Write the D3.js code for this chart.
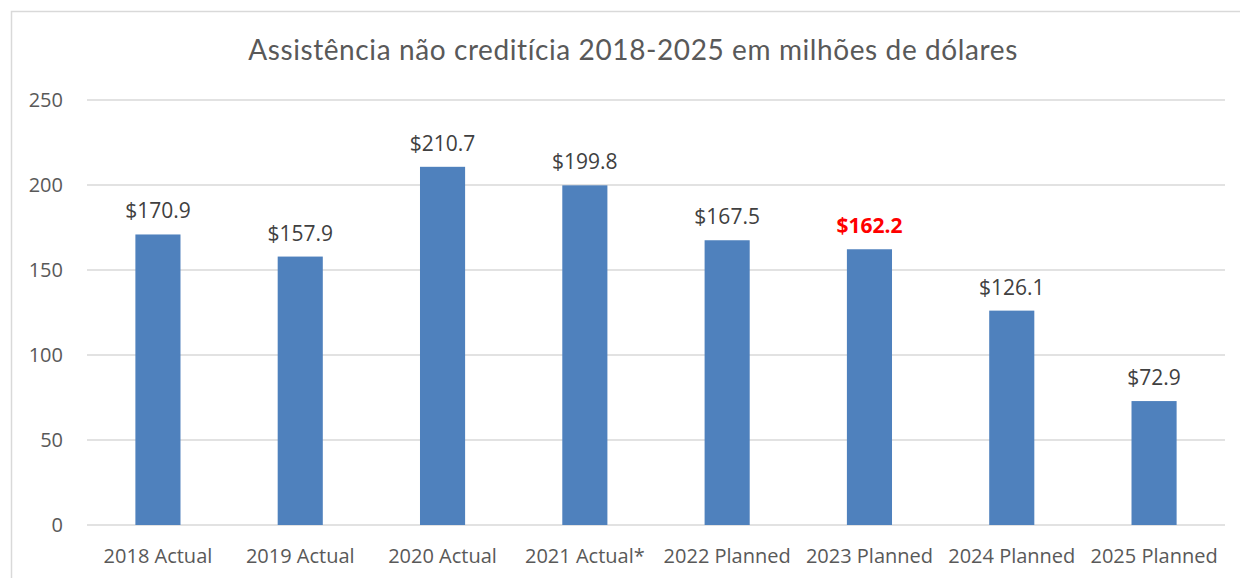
<!DOCTYPE html>
<html>
<head>
<meta charset="utf-8">
<script src="https://d3js.org/d3.v7.min.js"></script>
<style>
  body { margin: 0; background: #fff; }
</style>
</head>
<body>
<div id="chart"></div>
<script>
// data
var categories = ["2018 Actual", "2019 Actual", "2020 Actual", "2021 Actual*",
                  "2022 Planned", "2023 Planned", "2024 Planned", "2025 Planned"];
var values = [170.9, 157.9, 210.7, 199.8, 167.5, 162.2, 126.1, 72.9];
var yTicks = [0, 50, 100, 150, 200, 250];
var highlight = "2023 Planned";

var W = 1240, H = 578;
var margin = {left: 87, right: 15, top: 100, bottom: 53};

var svg = d3.select("#chart").append("svg")
    .attr("width", W)
    .attr("height", H);

// chart frame
svg.append("rect")
   .attr("x", 11.5).attr("y", 11.5)
   .attr("width", W + 20).attr("height", H + 20)
   .style("fill", "none")
   .style("stroke", "#d9d9d9")
   .style("stroke-width", 1.5);

svg.append("text")
   .text("Assistência não creditícia 2018-2025 em milhões de dólares")
   .attr("x", 633).attr("y", 60)
   .style("text-anchor", "middle")
   .style("font-family", "Lato, 'DejaVu Sans', sans-serif")
   .style("font-size", "28px")
   .style("letter-spacing", "0.6px")
   .style("fill", "#595959");

var x = d3.scaleBand()
    .domain(categories)
    .range([margin.left, W - margin.right])
    .paddingInner(0.683)
    .paddingOuter(0.34);

var y = d3.scaleLinear()
    .domain([0, 250])
    .range([H - margin.bottom, margin.top]);

// gridlines
svg.append("g")
   .selectAll("line")
   .data(yTicks)
   .join("line")
   .attr("x1", margin.left).attr("x2", W - margin.right)
   .attr("y1", function(d) { return y(d); })
   .attr("y2", function(d) { return y(d); })
   .style("stroke", "#d9d9d9")
   .style("stroke-width", 1.5);

// y labels
var yAxis = svg.append("g")
   .attr("transform", "translate(" + (margin.left - 24) + ",0)")
   .call(d3.axisLeft(y).tickValues(yTicks).tickSize(0).tickPadding(0));
yAxis.select(".domain").remove();
yAxis.selectAll("text")
   .style("font-family", "'Open Sans', 'Noto Sans', sans-serif")
   .style("font-size", "20px")
   .style("fill", "#595959");

// x labels
var xAxis = svg.append("g")
   .attr("transform", "translate(0," + (H - margin.bottom) + ")")
   .call(d3.axisBottom(x).tickSize(0).tickPadding(24));
xAxis.select(".domain").remove();
xAxis.selectAll("text")
   .style("font-family", "'Open Sans', 'Noto Sans', sans-serif")
   .style("font-size", "20px")
   .style("fill", "#595959");

// bars
svg.append("g")
   .selectAll("rect")
   .data(values)
   .join("rect")
   .attr("x", function(d, i) { return x(categories[i]); })
   .attr("y", function(d) { return y(d); })
   .attr("width", x.bandwidth())
   .attr("height", function(d) { return y(0) - y(d); })
   .style("fill", "#4f81bd");

// value labels
svg.append("g")
   .selectAll("text")
   .data(values)
   .join("text")
   .text(function(d) { return "$" + d.toFixed(1); })
   .attr("x", function(d, i) { return x(categories[i]) + x.bandwidth() / 2; })
   .attr("y", function(d) { return y(d) - 16; })
   .style("text-anchor", "middle")
   .style("font-family", "'Open Sans', 'Noto Sans', sans-serif")
   .style("font-size", "21px")
   .style("font-weight", function(d, i) { return categories[i] == highlight ? "bold" : "normal"; })
   .style("fill", function(d, i) { return categories[i] == highlight ? "#ff0000" : "#404040"; });
</script>
</body>
</html>
